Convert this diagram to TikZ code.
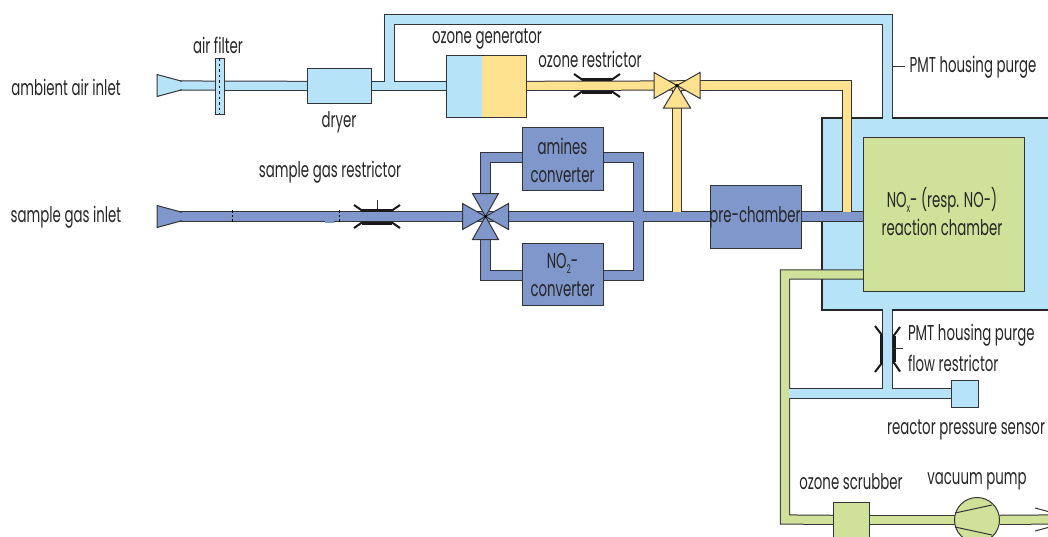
\documentclass[tikz,border=0pt]{standalone}
\usepackage{fontspec}
\setmainfont[FakeStretch=0.62]{Poppins}
\usetikzlibrary{calc}
\definecolor{ablue}{HTML}{B7E3F8}
\definecolor{ayellow}{HTML}{FFE28F}
\definecolor{aviolet}{HTML}{7F97CB}
\definecolor{agreen}{HTML}{D0E199}
\definecolor{adark}{HTML}{333338}
\pgfdeclarelayer{hous}\pgfdeclarelayer{pdark}\pgfdeclarelayer{pfill}
\pgfsetlayers{hous,pdark,pfill,main}
\newcommand\lowsub[1]{\raisebox{-5pt}{\fontsize{12}{12}\selectfont #1}}
\newcommand\pipe[2]{%
  \begin{pgfonlayer}{pdark}\draw[line width=10.2pt,adark,miter limit=10] #2;\end{pgfonlayer}%
  \begin{pgfonlayer}{pfill}\draw[line width=8.2pt,#1,miter limit=10] #2;\end{pgfonlayer}}
\tikzset{
  lbl/.style={inner sep=0,outer sep=0,text=black!85,font=\fontsize{21.5}{28}\selectfont,align=center},
  box/.style={draw=adark,line width=1pt,inner sep=0,outer sep=0,minimum width=#1},
  restr/.style={draw=black!90,line width=2pt},
  flat/.style={draw=black!90,line width=3pt},
  tick/.style={draw=adark,line width=0.7pt},
  valve/.style={draw=adark,line width=1pt,fill=#1,line join=miter}
}
\begin{document}
\begin{tikzpicture}[x=1pt,y=-1pt]
\useasboundingbox (0,0) rectangle (1048,536);
\clip (0,0) rectangle (1048,536);
% labels
\node[lbl] (tamb) at (66,87.5) {ambient air inlet};
\node[lbl] (tsam) at (66,217.5) {sample gas inlet};
\node[lbl] (tfil) at (218,45.5) {air filter};
\node[lbl] (tdry) at (339,122.5) {dryer};
\node[lbl] (tgen) at (487,39.5) {ozone generator};
\node[lbl] (tore) at (590,59.5) {ozone restrictor};
\node[lbl] (tsre) at (330,172.5) {sample gas restrictor};
\node[lbl] (tpmt) at (973,67.5) {PMT housing purge};
\node[lbl,anchor=west] (tfa) at (908,335.5) {PMT housing purge};
\node[lbl,anchor=west] (tfb) at (908,363.5) {flow restrictor};
\node[lbl] (tsen) at (966,429.5) {reactor pressure sensor};
\node[lbl] (tscr) at (851,481.5) {ozone scrubber};
\node[lbl] (tvac) at (977,481.5) {vacuum pump};
% housing
\begin{pgfonlayer}{hous}
\node[draw=black!85,line width=2.6pt,fill=ablue,minimum width=240pt,minimum height=192pt,inner sep=0,outer sep=0] (hsg) at (942,214) {};
\end{pgfonlayer}
% boxes
\node[box=9pt,fill=ablue,minimum height=56pt] (filter) at (219.5,86) {};
\node[box=64pt,fill=ablue,minimum height=35.5pt] (dryer) at (339,86) {};
\node[box=80pt,minimum height=62pt,outer sep=0] (ogen) at (486,86) {};
\node[box=81pt,fill=aviolet,minimum height=63pt] (amin) at (562.5,158.5) {};
\node[lbl] (amint) at (562.5,160) {amines\\converter};
\node[box=81pt,fill=aviolet,minimum height=62pt] (noc) at (562.5,274) {};
\node[lbl] (noct) at (562.5,275) {NO\lowsub{2}-\\converter};
\node[box=91pt,fill=aviolet,minimum height=63pt] (prec) at (755.5,216.5) {};
\node[lbl] (prect) at (755,217.5) {pre-chamber};
\node[box=161pt,fill=agreen,minimum height=154pt] (rc) at (943.5,214) {};
\node[lbl] (rct) at (942,212) {NO\lowsub{x}- (resp. NO-)\\reaction chamber};
\node[box=27pt,fill=ablue,minimum height=27pt] (sens) at (964.5,393.5) {};
\node[box=36pt,fill=agreen,minimum height=36pt] (scr) at (851,520) {};
\node[draw=adark,line width=1pt,circle,fill=agreen,minimum size=45pt,inner sep=0,outer sep=0] (pump) at (977,520) {};
\fill[ablue] (ogen.north west) rectangle (482,117);
\fill[ayellow] (482,55) rectangle (ogen.south east);
\draw[adark,line width=1pt] (ogen.north west) rectangle (ogen.south east);
% points
\coordinate (v1) at (677,85.5);
\coordinate (v2) at (485.5,216.5);
\coordinate (ai) at (170,85.5);
\coordinate (si) at (170,216.5);
\coordinate (tee) at (389.5,85.5);
\coordinate (j) at (638.5,216.5);
\coordinate (out) at (1052,519.5);
\coordinate (ht) at (887.5,117);
\coordinate (hb) at (887.5,311);
\coordinate (rw) at (863,274.5);
\coordinate (ae) at (603,157.5);
\coordinate (aw) at (522,157.5);
\coordinate (ne) at (603,275.5);
\coordinate (nw) at (522,275.5);
% blue pipes
\pipe{ablue}{(ai) -- (dryer)}
\pipe{ablue}{(dryer) -- (ogen)}
\pipe{ablue}{(tee) -- (389.5,19.5) -- (887.5,19.5) -- (ht)}
\pipe{ablue}{(hb) -- (887.5,393.5)}
% violet pipes
\pipe{aviolet}{(si) -- (v2) -- (j) -- (prec)}
\pipe{aviolet}{(prec) -- (rc.west |- prec)}
\pipe{aviolet}{(485.5,194) -- (485.5,157.5) -- (aw)}
\pipe{aviolet}{(ae) -- (638.5,157.5) -- (638.5,275.5) -- (ne)}
\pipe{aviolet}{(nw) -- (485.5,275.5) -- (485.5,239)}
% yellow pipes
\pipe{ayellow}{(ogen) -- (v1)}
\pipe{ayellow}{(v1) -- (847,85.5) -- (847,212)}
\pipe{ayellow}{(v1) -- (677,212)}
% green pipes
\pipe{agreen}{(rw) -- (785,274.5) -- (785,519.5) -- (scr)}
\pipe{agreen}{(scr) -- (pump)}
\pipe{agreen}{(pump) -- (out)}
% blue branch, open against the green pipe
\pipe{ablue}{(789,393.5) -- (sens)}
\begin{pgfonlayer}{pfill}
\fill[ablue] (883.4,115) rectangle (891.6,122);
\fill[ablue] (883.4,306) rectangle (891.6,313);
\fill[ablue] (883.4,389.4) rectangle (891.6,397.6);
\end{pgfonlayer}
% filter dashes
\draw[black,line width=1pt,dash pattern=on 2.5pt off 3pt] (filter.north) -- (filter.south);
% marks on the sample pipe
\draw[black,line width=0.8pt,dash pattern=on 2.5pt off 2pt] (232.5,210) -- (232.5,222);
\draw[black,line width=0.8pt,dash pattern=on 2.5pt off 2pt] (339.5,210) -- (339.5,222);
\fill[aviolet] (325,220) rectangle (334,223);
% funnels
\draw[valve=ablue] (157,74.5) -- (181,81) -- (181,90) -- (157,96.5) -- cycle;
\fill[ablue] (179,81.6) rectangle (183,89.4);
\draw[valve=aviolet] (157,205.5) -- (181,212) -- (181,221) -- (157,227.5) -- cycle;
\fill[aviolet] (179,212.6) rectangle (183,220.4);
% valves
\draw[valve=ayellow] (v1) -- ++(-23,-13) -- ++(0,26) -- cycle;
\draw[valve=ayellow] (v1) -- ++(23,-13) -- ++(0,26) -- cycle;
\draw[valve=ayellow] (v1) -- ++(-13.5,22.5) -- ++(27,0) -- cycle;
\draw[valve=aviolet] (v2) -- ++(-23,-13) -- ++(0,26) -- cycle;
\draw[valve=aviolet] (v2) -- ++(23,-13) -- ++(0,26) -- cycle;
\draw[valve=aviolet] (v2) -- ++(-13,-23) -- ++(26,0) -- cycle;
\draw[valve=aviolet] (v2) -- ++(-13,23) -- ++(26,0) -- cycle;
\fill[black] (v1) circle (1.6pt) (v2) circle (1.6pt);
% restrictors
\coordinate (r1) at (597,85.5);
\coordinate (r2) at (377,216.5);
\coordinate (r3) at (887.5,349);
\foreach \c in {r1,r2}{
 \draw[restr] (\c) ++(-23,-11.5) -- ++(8,5.5) -- ++(30,0) -- ++(8,-5.5);
 \draw[restr] (\c) ++(-23,11.5) -- ++(8,-5.5) -- ++(30,0) -- ++(8,5.5);
 \draw[flat] (\c) ++(-15,-6.5) -- ++(30,0);
 \draw[flat] (\c) ++(-15,6.5) -- ++(30,0);
}
\draw[restr] (r3) ++(-12.5,-23) -- ++(6.5,8.5) -- ++(0,29) -- ++(-6.5,8.5);
\draw[restr] (r3) ++(12.5,-22) -- ++(-6.5,9) -- ++(0,26) -- ++(6.5,9.5);
\draw[flat] (r3) ++(-6.5,-14.5) -- ++(0,29);
\draw[flat] (r3) ++(6.5,-13) -- ++(0,26);
% ticks
\draw[tick] (r2) ++(0,-16.5) -- ++(0,9);
\draw[tick] (892,66) -- ([xshift=-5pt]tpmt.west |- 0,66);
\draw[tick] (893,348) -- (903,348);
% pump
\draw[adark,line width=1pt] (955,513) -- (992,505) (955,527) -- (992,535);
\draw[adark,line width=1pt] (1035,508) -- (1050,512) (1035,531) -- (1050,527);
\end{tikzpicture}
\end{document}
